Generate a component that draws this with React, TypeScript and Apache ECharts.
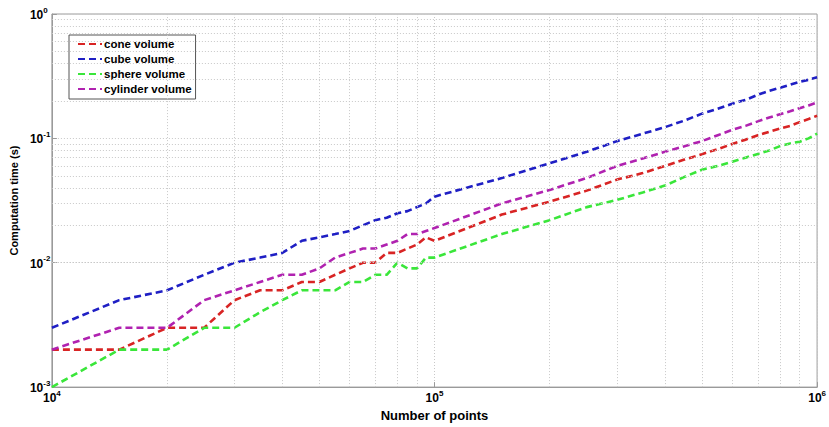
import React, { useEffect, useRef } from 'react';
import * as echarts from 'echarts';

const pointCounts = [
  10000, 15000, 20000, 25000, 30000, 35000, 40000, 45000, 50000, 55000,
  60000, 65000, 70000, 75000, 80000, 85000, 90000, 95000, 100000,
  150000, 200000, 250000, 300000, 350000, 400000, 450000, 500000, 550000,
  600000, 650000, 700000, 750000, 800000, 850000, 900000, 950000, 1000000,
];

const coneVolume = [
  0.002, 0.002, 0.003, 0.003, 0.005, 0.006, 0.006, 0.007, 0.007, 0.008,
  0.009, 0.010, 0.010, 0.012, 0.012, 0.013, 0.014, 0.016, 0.015,
  0.0244, 0.031, 0.038, 0.0466, 0.0526, 0.060, 0.0675, 0.0746, 0.082,
  0.090, 0.0976, 0.106, 0.113, 0.120, 0.126, 0.135, 0.143, 0.152,
];

const cubeVolume = [
  0.003, 0.005, 0.006, 0.008, 0.010, 0.011, 0.012, 0.015, 0.016, 0.017,
  0.018, 0.020, 0.022, 0.023, 0.025, 0.026, 0.028, 0.030, 0.034,
  0.048, 0.063, 0.078, 0.095, 0.109, 0.123, 0.139, 0.158, 0.173,
  0.190, 0.204, 0.224, 0.241, 0.255, 0.270, 0.285, 0.296, 0.310,
];

const sphereVolume = [
  0.001, 0.002, 0.002, 0.003, 0.003, 0.004, 0.005, 0.006, 0.006, 0.006,
  0.007, 0.007, 0.008, 0.008, 0.010, 0.009, 0.009, 0.011, 0.011,
  0.017, 0.022, 0.028, 0.032, 0.0367, 0.0417, 0.049, 0.056, 0.060,
  0.065, 0.070, 0.075, 0.080, 0.0866, 0.091, 0.094, 0.100, 0.109,
];

const cylinderVolume = [
  0.002, 0.003, 0.003, 0.005, 0.006, 0.007, 0.008, 0.008, 0.009, 0.011,
  0.012, 0.013, 0.013, 0.014, 0.015, 0.017, 0.017, 0.018, 0.019,
  0.030, 0.0385, 0.048, 0.060, 0.069, 0.078, 0.0865, 0.095, 0.106,
  0.117, 0.126, 0.137, 0.147, 0.156, 0.165, 0.175, 0.184, 0.195,
];

const seriesNames = ['cone volume', 'cube volume', 'sphere volume', 'cylinder volume'];
const seriesColors = ['#d82424', '#1f1fc4', '#3ae63a', '#b022b0'];

const xMinorGrid = [
  20000, 30000, 40000, 50000, 60000, 70000, 80000, 90000,
  200000, 300000, 400000, 500000, 600000, 700000, 800000, 900000,
];
const yMinorGrid = [
  0.002, 0.003, 0.004, 0.005, 0.006, 0.007, 0.008, 0.009,
  0.02, 0.03, 0.04, 0.05, 0.06, 0.07, 0.08, 0.09,
  0.2, 0.3, 0.4, 0.5, 0.6, 0.7, 0.8, 0.9,
];

const FONT = '"Liberation Sans", Arial, sans-serif';

const powerLabel = (v: number) => `{b|10}{s|${Math.round(Math.log10(v))}}`;
const powerRich = {
  b: { fontSize: 12, fontWeight: 'bold', fontFamily: FONT, color: '#000', verticalAlign: 'bottom', lineHeight: 14 },
  s: { fontSize: 8, fontWeight: 'bold', fontFamily: FONT, color: '#000', verticalAlign: 'bottom', lineHeight: 10, padding: [0, 0, 7, 0] },
};

const gridLine = { color: '#c8c8c8', type: [1, 2], width: 1 };

export default function App() {
  const ref = useRef<HTMLDivElement>(null);

  useEffect(() => {
    if (!ref.current) return;
    const chart = echarts.init(ref.current, undefined, { renderer: 'svg' });
    const allSeries = [coneVolume, cubeVolume, sphereVolume, cylinderVolume];

    chart.setOption({
      animation: false,
      backgroundColor: '#ffffff',
      grid: {
        left: 48,
        right: 7,
        top: 14,
        bottom: 39,
        show: true,
        borderColor: '#9a9a9a',
        borderWidth: 1,
        backgroundColor: '#ffffff',
      },
      legend: {
        data: seriesNames,
        orient: 'vertical',
        left: 69,
        top: 35,
        itemWidth: 24,
        itemHeight: 13,
        itemGap: 3,
        padding: [3, 4, 4, 8],
        backgroundColor: '#ffffff',
        borderColor: '#555555',
        borderWidth: 1,
        borderRadius: 0,
        itemStyle: { color: 'transparent', borderColor: 'transparent', borderWidth: 0, opacity: 0 },
        textStyle: { fontSize: 11.5, fontWeight: 'bold', color: '#000', fontFamily: FONT, padding: [0, 0, 0, -3] },
      },
      xAxis: {
        type: 'log',
        logBase: 10,
        min: 10000,
        max: 1000000,
        name: 'Number of points',
        nameLocation: 'middle',
        nameGap: 20,
        nameTextStyle: { fontSize: 13, fontWeight: 'bold', color: '#000', fontFamily: FONT },
        axisLine: { show: true, lineStyle: { color: '#9a9a9a' } },
        axisTick: { show: true, inside: true, length: 5, lineStyle: { color: '#9a9a9a' } },
        axisLabel: { margin: 3, formatter: powerLabel, rich: powerRich, showMinLabel: true, showMaxLabel: true },
        splitLine: { show: true, lineStyle: gridLine },
      },
      yAxis: {
        type: 'log',
        logBase: 10,
        min: 0.001,
        max: 1,
        name: 'Computation time (s)',
        nameLocation: 'middle',
        nameGap: 26,
        nameTextStyle: { fontSize: 11, fontWeight: 'bold', color: '#000', fontFamily: FONT },
        axisLine: { show: true, lineStyle: { color: '#9a9a9a' } },
        axisTick: { show: true, inside: true, length: 5, lineStyle: { color: '#9a9a9a' } },
        axisLabel: { margin: 22, align: 'left', formatter: powerLabel, rich: powerRich },
        splitLine: { show: true, lineStyle: gridLine },
      },
      series: [
        {
          name: '__grid',
          type: 'line',
          data: [],
          z: 1,
          silent: true,
          markLine: {
            silent: true,
            symbol: ['none', 'none'],
            label: { show: false },
            lineStyle: gridLine,
            emphasis: { disabled: true },
            data: [
              ...xMinorGrid.map((v) => ({ xAxis: v })),
              ...yMinorGrid.map((v) => ({ yAxis: v })),
            ],
          },
        },
        ...allSeries.map((vals, i) => ({
          name: seriesNames[i],
          type: 'line',
          z: 3,
          showSymbol: false,
          symbol: 'none',
          color: seriesColors[i],
          lineStyle: { color: seriesColors[i], width: 2.6, type: [7, 4] },
          data: pointCounts.map((x, j) => [x, vals[j]]),
        })),
      ],
    });

    return () => chart.dispose();
  }, []);

  return (
    <div
      ref={ref}
      style={{ position: 'fixed', left: 0, top: 0, width: 829, height: 427, background: '#fff' }}
    />
  );
}
